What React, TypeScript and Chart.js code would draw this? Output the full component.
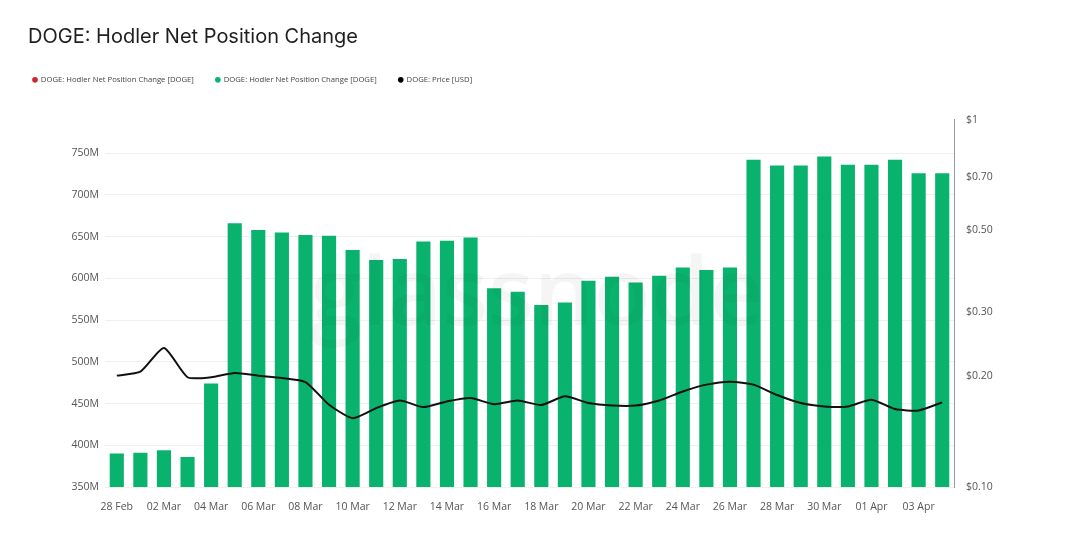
import React, { useEffect, useRef } from 'react';
import { Chart, registerables } from 'chart.js';

Chart.register(...registerables);

const categories = [
  '28 Feb', '01 Mar', '02 Mar', '03 Mar', '04 Mar', '05 Mar', '06 Mar', '07 Mar', '08 Mar',
  '09 Mar', '10 Mar', '11 Mar', '12 Mar', '13 Mar', '14 Mar', '15 Mar', '16 Mar', '17 Mar',
  '18 Mar', '19 Mar', '20 Mar', '21 Mar', '22 Mar', '23 Mar', '24 Mar', '25 Mar', '26 Mar',
  '27 Mar', '28 Mar', '29 Mar', '30 Mar', '31 Mar', '01 Apr', '02 Apr', '03 Apr', '04 Apr',
];

// Hodler net position change, millions of DOGE
const hodlerM = [
  390, 391, 394, 386, 474, 666, 658, 655, 652, 651, 634, 622, 623, 644, 645, 649, 588, 584,
  568, 571, 597, 602, 595, 603, 613, 610, 613, 742, 735, 735, 746, 736, 736, 742, 726, 726,
];

// Negative changes (red series): none in this window
const hodlerNegM: (number | null)[] = categories.map(() => null);

// DOGE price, USD
const priceUsd = [
  0.201, 0.206, 0.239, 0.199, 0.199, 0.2045, 0.201, 0.198, 0.193, 0.1675, 0.154, 0.164,
  0.172, 0.165, 0.171, 0.1747, 0.168, 0.172, 0.1672, 0.1765, 0.1693, 0.1666, 0.1666, 0.172,
  0.182, 0.19, 0.1935, 0.19, 0.178, 0.1693, 0.1657, 0.1657, 0.1729, 0.163, 0.1616, 0.17,
];

const leftTicksM = [350, 400, 450, 500, 550, 600, 650, 700, 750];
const rightTicks = [0.1, 0.2, 0.3, 0.5, 0.7, 1];

const seriesNames = [
  'DOGE: Hodler Net Position Change [DOGE]',
  'DOGE: Hodler Net Position Change [DOGE]',
  'DOGE: Price [USD]',
];

const chartTitle = 'DOGE: Hodler Net Position Change';

const GREEN = '#0ab36d';
const RED = '#d0262d';
const TICK_FONT = { family: '"Open Sans", "Noto Sans", sans-serif', size: 10.5 };

export default function App() {
  const canvasRef = useRef<HTMLCanvasElement>(null);

  useEffect(() => {
    if (!canvasRef.current) return;

    const placement = {
      id: 'placement',
      afterLayout(chart: any) {
        if (chart.titleBlock) chart.titleBlock.left = 28;
        if (chart.legend) {
          chart.legend.left = 11;
          chart.legend.top = 54;
        }
      },
    };

    const watermark = {
      id: 'watermark',
      afterDatasetsDraw(chart: any) {
        const { ctx, chartArea } = chart;
        ctx.save();
        ctx.font = '600 94px "Open Sans", sans-serif';
        ctx.fillStyle = 'rgba(0,0,0,0.04)';
        ctx.textAlign = 'center';
        ctx.textBaseline = 'middle';
        ctx.fillText('glassnode', (chartArea.left + chartArea.right) / 2 + 7, 298);
        ctx.restore();
      },
    };

    const chart = new Chart(canvasRef.current, {
      type: 'bar',
      data: {
        labels: categories,
        datasets: [
          {
            type: 'bar',
            label: seriesNames[0],
            data: hodlerNegM.map((v) => (v == null ? null : v * 1e6)),
            backgroundColor: RED,
            yAxisID: 'y',
            grouped: false,
            barPercentage: 0.6,
            categoryPercentage: 1,
            order: 2,
          } as any,
          {
            type: 'bar',
            label: seriesNames[1],
            data: hodlerM.map((v) => v * 1e6),
            backgroundColor: GREEN,
            yAxisID: 'y',
            grouped: false,
            barPercentage: 0.6,
            categoryPercentage: 1,
            order: 2,
          } as any,
          {
            type: 'line',
            label: seriesNames[2],
            data: priceUsd,
            borderColor: '#111111',
            backgroundColor: '#000000',
            borderWidth: 2,
            pointRadius: 0,
            tension: 0.2,
            yAxisID: 'y1',
            order: 0,
          } as any,
        ],
      },
      options: {
        responsive: false,
        animation: false,
        layout: { padding: { left: 0, right: 0, top: 0, bottom: 0 } },
        plugins: {
          title: {
            display: true,
            text: chartTitle,
            align: 'start',
            color: '#1f1f1f',
            font: { family: 'Inter, "Open Sans", sans-serif', size: 20, weight: 'normal' },
            padding: { top: 25, bottom: 31 },
          },
          legend: {
            display: true,
            align: 'start',
            labels: {
              usePointStyle: true,
              pointStyle: 'circle',
              boxWidth: 4,
              boxHeight: 4,
              padding: 22,
              color: '#444',
              font: { family: '"Open Sans", "Noto Sans", sans-serif', size: 7.7 },
              sort: (a: any, b: any) => a.datasetIndex - b.datasetIndex,
              generateLabels: (c: any) => {
                const items = (Chart.defaults.plugins.legend.labels as any).generateLabels(c);
                return items.map((it: any) => ({ ...it, lineWidth: 0, pointStyle: 'circle' }));
              },
            },
          },
          tooltip: { enabled: false },
        },
        scales: {
          x: {
            type: 'category',
            offset: true,
            grid: { display: false },
            border: { display: false },
            ticks: {
              autoSkip: false,
              maxRotation: 0,
              minRotation: 0,
              padding: 6,
              color: '#555',
              font: TICK_FONT,
              callback: (_v: any, i: number) => (i % 2 === 0 ? categories[i] : ''),
            },
            afterFit: (s: any) => {
              s.height = 70;
            },
          },
          y: {
            type: 'linear',
            position: 'left',
            min: 350e6,
            max: 790e6,
            grid: { color: '#efefef', drawTicks: false, lineWidth: 1 },
            border: { display: false },
            ticks: {
              padding: 6,
              color: '#555',
              font: TICK_FONT,
              callback: (v: any) => `${Math.round(Number(v) / 1e6)}M`,
            },
            afterBuildTicks: (s: any) => {
              s.ticks = leftTicksM.map((m) => ({ value: m * 1e6 }));
            },
            afterFit: (s: any) => {
              s.width = 105;
            },
          },
          y1: {
            type: 'logarithmic',
            position: 'right',
            min: 0.1,
            max: 1,
            grid: { display: true, drawOnChartArea: false, drawTicks: false, color: 'rgba(0,0,0,0)' },
            border: { display: true, color: '#9a9a9a', width: 1 },
            ticks: {
              padding: 12,
              color: '#555',
              font: TICK_FONT,
              callback: (v: any) => (Number(v) === 1 ? '$1' : `$${Number(v).toFixed(2)}`),
            },
            afterBuildTicks: (s: any) => {
              s.ticks = rightTicks.map((v) => ({ value: v }));
            },
            afterFit: (s: any) => {
              s.width = 112;
            },
          },
        },
      },
      plugins: [placement, watermark],
    });

    return () => chart.destroy();
  }, []);

  return (
    <div style={{ position: 'absolute', left: 0, top: 0, width: 1066, height: 557, background: '#fff' }}>
      <canvas ref={canvasRef} width={1066} height={557} style={{ display: 'block', width: 1066, height: 557 }} />
    </div>
  );
}
